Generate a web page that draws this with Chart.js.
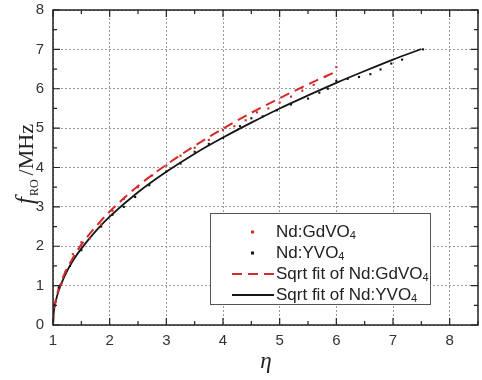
<!DOCTYPE html>
<html>
<head>
<meta charset="utf-8">
<script src="https://cdn.jsdelivr.net/npm/chart.js@4"></script>
<style>
  html, body { margin: 0; padding: 0; background: #fff; }
  #wrap { width: 482px; height: 380px; }
</style>
</head>
<body>
<div id="wrap"><canvas id="chart" width="482" height="380"></canvas></div>
<script>
// measured points
const gdEta = [1.05, 1.15, 1.22, 1.35, 1.5, 1.65, 1.85, 2.05, 2.25, 2.5, 2.75, 3.0, 3.25, 3.5, 3.75, 4.0, 4.2, 4.4, 4.6, 4.8, 5.0, 5.2, 5.4, 5.6, 5.8, 6.0];
const gdF = [0.6, 1.05, 1.35, 1.8, 2.1, 2.2, 2.55, 2.9, 3.2, 3.5, 3.8, 4.05, 4.3, 4.5, 4.7, 4.95, 5.05, 5.2, 5.4, 5.5, 5.65, 5.8, 5.95, 6.1, 6.3, 6.55];
const yEta = [1.0, 1.02, 1.1, 1.3, 1.5, 1.85, 2.05, 2.25, 2.45, 2.7, 3.0, 3.25, 3.5, 3.75, 4.0, 4.3, 4.5, 4.7, 4.95, 5.2, 5.5, 5.7, 5.85, 6.0, 6.2, 6.4, 6.6, 6.78, 6.97, 7.16, 7.53];
const yF = [0.1, 0.5, 0.95, 1.5, 1.9, 2.5, 2.8, 3.0, 3.25, 3.55, 3.9, 4.1, 4.4, 4.6, 4.75, 5.05, 5.25, 5.3, 5.45, 5.6, 5.75, 5.9, 6.0, 6.2, 6.25, 6.3, 6.37, 6.49, 6.64, 6.74, 7.0];

// fit curves
const gdFitEta = [1, 1.01, 1.03, 1.06, 1.1, 1.2, 1.35, 1.5, 1.75, 2, 2.5, 3, 3.5, 4, 4.5, 5, 5.5, 6];
const gdFitF = [0, 0.29, 0.5, 0.71, 0.91, 1.29, 1.7, 2.04, 2.49, 2.88, 3.53, 4.07, 4.55, 4.99, 5.39, 5.76, 6.11, 6.44];
const yFitEta = [1, 1.01, 1.03, 1.06, 1.1, 1.2, 1.35, 1.5, 1.75, 2, 2.5, 3, 3.5, 4, 4.5, 5, 5.5, 6, 6.5, 7, 7.5];
const yFitF = [0, 0.27, 0.48, 0.67, 0.87, 1.23, 1.63, 1.94, 2.38, 2.75, 3.37, 3.89, 4.35, 4.76, 5.14, 5.5, 5.83, 6.15, 6.45, 6.74, 7.01];

const xTicks = [1, 2, 3, 4, 5, 6, 7, 8];
const yTicks = [0, 1, 2, 3, 4, 5, 6, 7, 8];
const labels = ['Nd:GdVO4', 'Nd:YVO4', 'Sqrt fit of Nd:GdVO4', 'Sqrt fit of Nd:YVO4'];

const RED = '#d42a2a';
const BLK = '#151515';
const SANS = '"Liberation Sans", Arial, sans-serif';
const SERIF = '"Liberation Serif", "Times New Roman", serif';

const pts = (xs, ys) => xs.map((x, i) => ({ x: x, y: ys[i] }));

// text with the trailing digit drawn as subscript
function subText(ctx, txt, x, y, size) {
  const m = txt.match(/^(.*?)(\d+)$/);
  const base = m ? m[1] : txt;
  ctx.font = size + 'px ' + SANS;
  ctx.fillText(base, x, y);
  if (m) {
    const w = ctx.measureText(base).width;
    ctx.font = Math.round(size * 0.62) + 'px ' + SANS;
    ctx.fillText(m[2], x + w, y + size * 0.22);
  }
}

function noPad(s) {
  s.paddingTop = 0; s.paddingBottom = 0; s.paddingLeft = 0; s.paddingRight = 0;
}

const framePlugin = {
  id: 'frame',
  afterDraw(chart) {
    const ctx = chart.ctx;
    const a = chart.chartArea;
    const xs = chart.scales.x, ys = chart.scales.y;
    ctx.save();
    ctx.strokeStyle = '#222';
    ctx.lineWidth = 1.5;
    ctx.strokeRect(a.left, a.top, a.right - a.left, a.bottom - a.top);
    ctx.lineWidth = 1.2;
    ctx.beginPath();
    for (let v = 1; v <= 8.5; v += 0.5) {
      const px = xs.getPixelForValue(v);
      const len = Number.isInteger(v) ? 7 : 4;
      ctx.moveTo(px, a.bottom); ctx.lineTo(px, a.bottom - len);
      ctx.moveTo(px, a.top); ctx.lineTo(px, a.top + len);
    }
    for (let v = 0; v <= 8; v += 0.5) {
      const py = ys.getPixelForValue(v);
      const len = Number.isInteger(v) ? 7 : 4;
      ctx.moveTo(a.left, py); ctx.lineTo(a.left + len, py);
      ctx.moveTo(a.right, py); ctx.lineTo(a.right - len, py);
    }
    ctx.stroke();

    // axis titles
    ctx.fillStyle = '#222';
    ctx.textBaseline = 'alphabetic';
    ctx.textAlign = 'center';
    ctx.font = 'italic 23px ' + SERIF;
    ctx.fillText('\u03b7', 266, 368);

    ctx.translate(33, 204);
    ctx.rotate(-Math.PI / 2);
    ctx.textAlign = 'left';
    ctx.font = 'italic 25px ' + SERIF;
    ctx.fillText('f', 0, 0);
    let w = ctx.measureText('f').width + 1;
    ctx.font = '12px ' + SERIF;
    ctx.fillText('RO', w, 5);
    w += ctx.measureText('RO').width + 4;
    ctx.font = '22px ' + SERIF;
    ctx.fillText('/MHz', w, 0);
    ctx.restore();

    // legend
    ctx.save();
    ctx.fillStyle = '#fff';
    ctx.fillRect(210, 213, 220, 91);
    ctx.strokeStyle = '#555';
    ctx.lineWidth = 1;
    ctx.strokeRect(210.5, 213.5, 220, 91);
    const rows = [232, 253, 274, 295];
    chart.data.datasets.forEach((ds, i) => {
      const y = rows[i];
      if (ds.showLine) {
        ctx.strokeStyle = ds.borderColor;
        ctx.lineWidth = 2;
        ctx.setLineDash(ds.borderDash || []);
        ctx.beginPath();
        ctx.moveTo(232, y); ctx.lineTo(274, y);
        ctx.stroke();
        ctx.setLineDash([]);
      } else {
        ctx.fillStyle = ds.backgroundColor;
        ctx.fillRect(251, y - 1.5, 3, 3);
      }
      ctx.fillStyle = '#222';
      ctx.textBaseline = 'middle';
      subText(ctx, ds.label, 276, y, 17);
    });
    ctx.restore();
  }
};

new Chart(document.getElementById('chart'), {
  type: 'scatter',
  data: {
    datasets: [
      { label: labels[0], data: pts(gdEta, gdF), pointStyle: 'rect', pointRadius: 1.5, backgroundColor: RED, borderWidth: 0, showLine: false },
      { label: labels[1], data: pts(yEta, yF), pointStyle: 'rect', pointRadius: 1.5, backgroundColor: BLK, borderWidth: 0, showLine: false },
      { label: labels[2], data: pts(gdFitEta, gdFitF), showLine: true, borderColor: RED, borderWidth: 2, borderDash: [10, 6], pointRadius: 0, tension: 0.4, cubicInterpolationMode: 'monotone' },
      { label: labels[3], data: pts(yFitEta, yFitF), showLine: true, borderColor: BLK, borderWidth: 1.8, pointRadius: 0, tension: 0.4, cubicInterpolationMode: 'monotone' }
    ]
  },
  options: {
    responsive: false,
    animation: false,
    layout: { padding: { top: 10, right: 1, left: 0, bottom: 0 } },
    plugins: { legend: { display: false }, tooltip: { enabled: false } },
    scales: {
      x: {
        type: 'linear', min: 1, max: 8.5,
        afterBuildTicks: (s) => { s.ticks = xTicks.map((v) => ({ value: v })); },
        afterFit: (s) => { s.height = 55; noPad(s); },
        ticks: { color: '#333', padding: 7, font: { family: SANS, size: 15 } },
        grid: { color: '#9a9a9a', lineWidth: 1, drawTicks: false },
        border: { display: false, dash: [2, 2] }
      },
      y: {
        type: 'linear', min: 0, max: 8,
        afterBuildTicks: (s) => { s.ticks = yTicks.map((v) => ({ value: v })); },
        afterFit: (s) => { s.width = 53; noPad(s); },
        ticks: { color: '#333', padding: 9, font: { family: SANS, size: 15 } },
        grid: { color: '#9a9a9a', lineWidth: 1, drawTicks: false },
        border: { display: false, dash: [2, 2] }
      }
    }
  },
  plugins: [framePlugin]
});
</script>
</body>
</html>
